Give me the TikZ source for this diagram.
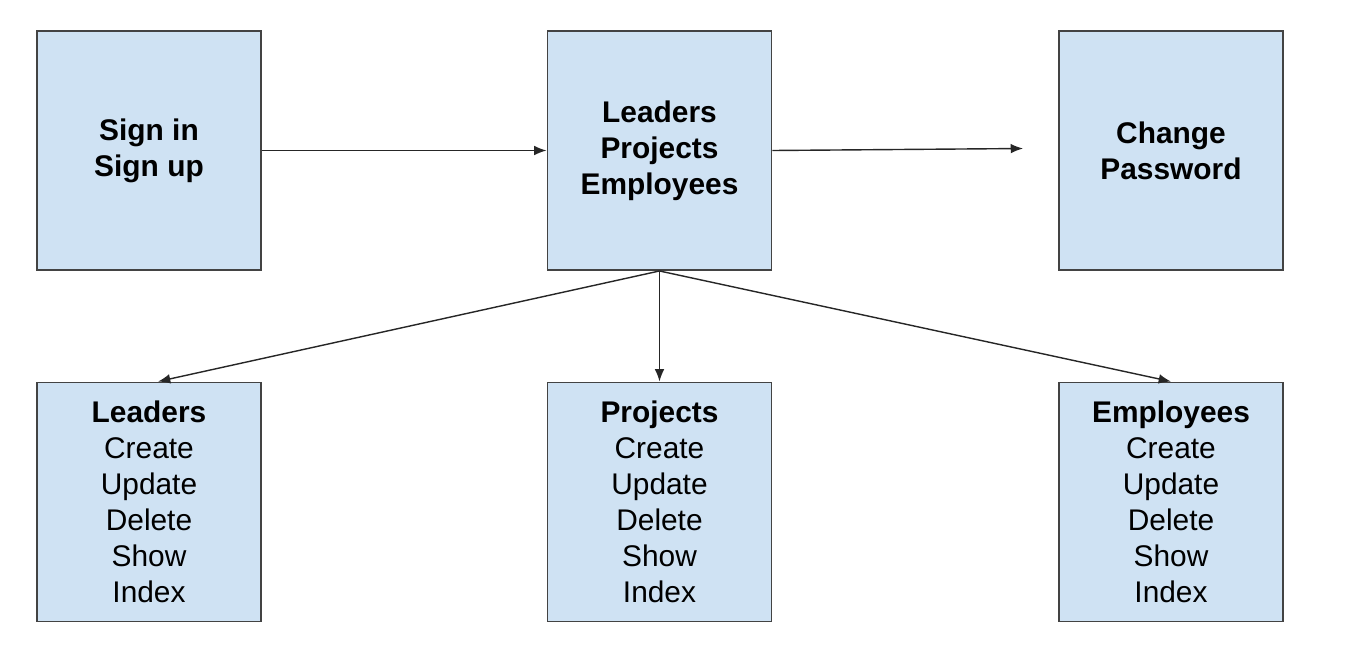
\documentclass[tikz,border=0pt]{standalone}
\usepackage{fontspec}
\setmainfont{Liberation Sans}
\usetikzlibrary{arrows.meta,calc}
\definecolor{boxblue}{HTML}{CFE2F3}
\definecolor{boxline}{HTML}{434343}
\tikzset{
  box/.style={draw=boxline, fill=boxblue, line width=1.1pt,
    minimum width=4.48cm, minimum height=4.78cm, inner sep=0pt,
    align=center, font=\fontsize{17}{20.5}\selectfont},
  link/.style={-{Latex[length=7pt,width=5.5pt]}, line width=0.8pt, black!85}
}
\begin{document}
\begin{tikzpicture}
            \useasboundingbox (0,0) rectangle (27.44,-13.24);

            \node[box] (auth) at (2.98,-3.01) {\textbf{Sign in}\\\textbf{Sign up}};
            \node[box] (menu) at (13.19,-3.01) {\textbf{Leaders}\\\textbf{Projects}\\\textbf{Employees}};
            \node[box] (passwd) at (23.42,-3.01) {\textbf{Change}\\\textbf{Password}};

            \node[box] (leaders) at (2.98,-10.04) {\textbf{Leaders}\\Create\\Update\\Delete\\Show\\Index};
            \node[box] (projects) at (13.19,-10.04) {\textbf{Projects}\\Create\\Update\\Delete\\Show\\Index};
            \node[box] (employees) at (23.42,-10.04) {\textbf{Employees}\\Create\\Update\\Delete\\Show\\Index};

            % arrow to password stops short of the box
            \coordinate (passwdend) at ($(passwd.west)+(-0.7,0.04)$);

            \draw[link] (auth.east) -- (menu.west);
            \draw[link] (menu.east) -- (passwdend);
            \draw[link] (menu.south) -- ($(leaders.north)+(0.18,0)$);
            \draw[link] (menu.south) -- (projects.north);
            \draw[link] (menu.south) -- (employees.north);
\end{tikzpicture}
\end{document}
